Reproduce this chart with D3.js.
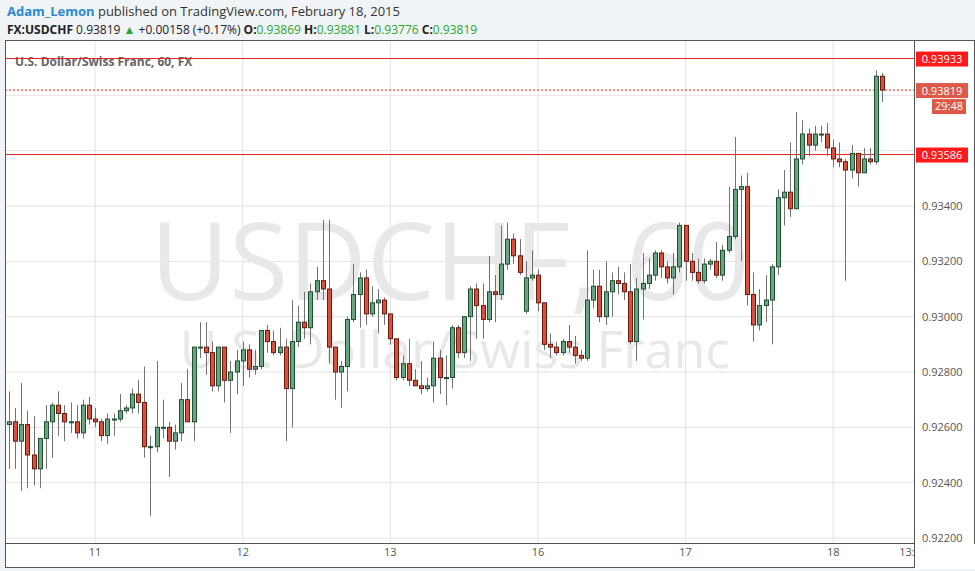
<!DOCTYPE html>
<html><head><meta charset="utf-8">
<script src="https://cdn.jsdelivr.net/npm/d3@7"></script>
<style>body{margin:0;background:#fff;font-family:"Open Sans",Arial,sans-serif}</style>
</head><body><svg id="c" width="975" height="571"></svg>
<script>
// hourly candles, Feb 10 10:00 .. Feb 18 08:00
const opens  = [.9261,.9262,.9255,.9261,.9250,.9245,.9256,.9262,.9268,.9265,.9262,.9262,.9258,.9268,.9263,.9262,.9257,.9263,.9263,.9266,.9267,.9272,.9269,.9253,.9253,.9260,.9260,.9255,.9258,.9270,.9262,.9289,.9289,.9287,.9275,.9289,.9277,.9280,.9284,.9288,.9281,.9282,.9295,.9291,.9287,.9289,.9274,.9291,.9298,.9296,.9309,.9313,.9310,.9289,.9280,.9282,.9299,.9308,.9314,.9301,.9305,.9306,.9301,.9292,.9278,.9283,.9277,.9275,.9274,.9275,.9285,.9278,.9278,.9296,.9287,.9300,.9310,.9304,.9299,.9309,.9308,.9319,.9328,.9322,.9302,.9314,.9315,.9305,.9290,.9289,.9287,.9291,.9289,.9286,.9285,.9306,.9311,.9300,.9309,.9313,.9312,.9309,.9291,.9310,.9312,.9315,.9323,.9318,.9314,.9318,.9333,.9320,.9316,.9313,.9319,.9320,.9315,.9324,.9329,.9346,.9347,.9308,.9297,.9304,.9306,.9318,.9343,.9345,.9339,.9357,.9366,.9362,.9366,.9366,.9361,.9357,.9356,.9353,.9359,.9352,.9357,.9356,.93869];
const highs  = [.9273,.9267,.9276,.9266,.9264,.9256,.9268,.9269,.9273,.9268,.9269,.9268,.9270,.9271,.9267,.9263,.9265,.9265,.9272,.9268,.9274,.9277,.9282,.9257,.9284,.9270,.9262,.9261,.9276,.9281,.9289,.9298,.9298,.9291,.9289,.9289,.9284,.9288,.9291,.9290,.9288,.9295,.9297,.9295,.9296,.9292,.9306,.9304,.9309,.9312,.9318,.9335,.9335,.9289,.9284,.9300,.9319,.9316,.9317,.9311,.9310,.9307,.9301,.9292,.9286,.9292,.9281,.9284,.9278,.9291,.9288,.9286,.9297,.9297,.9300,.9311,.9312,.9312,.9322,.9315,.9333,.9334,.9330,.9328,.9320,.9324,.9317,.9305,.9294,.9291,.9292,.9297,.9293,.9288,.9324,.9317,.9317,.9320,.9316,.9318,.9316,.9319,.9314,.9323,.9321,.9324,.9324,.9320,.9323,.9334,.9333,.9323,.9321,.9321,.9321,.9327,.9326,.9347,.9365,.9351,.9352,.9316,.9310,.9315,.9319,.9346,.9353,.9363,.9374,.9371,.9368,.9369,.9369,.9370,.9364,.9363,.9357,.9362,.9359,.9361,.9361,.9389,.93881];
const lows   = [.9245,.9245,.9237,.9238,.9239,.9238,.9245,.9249,.9257,.9255,.9258,.9256,.9256,.9261,.9260,.9255,.9254,.9257,.9262,.9265,.9265,.9265,.9249,.9228,.9251,.9256,.9242,.9252,.9255,.9262,.9255,.9285,.9279,.9273,.9273,.9269,.9258,.9272,.9275,.9278,.9279,.9281,.9287,.9286,.9286,.9255,.9260,.9289,.9292,.9290,.9306,.9306,.9283,.9270,.9267,.9273,.9298,.9296,.9297,.9300,.9294,.9297,.9290,.9277,.9277,.9275,.9275,.9272,.9273,.9269,.9272,.9268,.9274,.9285,.9285,.9284,.9292,.9292,.9298,.9298,.9306,.9317,.9319,.9315,.9301,.9313,.9302,.9288,.9285,.9286,.9286,.9287,.9283,.9284,.9284,.9303,.9298,.9297,.9300,.9308,.9306,.9290,.9284,.9299,.9310,.9313,.9314,.9312,.9308,.9316,.9313,.9313,.9312,.9312,.9317,.9314,.9313,.9323,.9328,.9320,.9304,.9291,.9295,.9298,.9290,.9315,.9333,.9336,.9339,.9355,.9358,.9360,.9363,.9358,.9354,.9354,.9313,.9350,.9347,.9352,.9355,.9355,.93776];
const closes = [.9262,.9255,.9261,.9250,.9245,.9256,.9262,.9268,.9265,.9262,.9262,.9258,.9268,.9263,.9262,.9257,.9263,.9263,.9266,.9267,.9272,.9269,.9253,.9253,.9260,.9260,.9255,.9258,.9270,.9262,.9289,.9289,.9287,.9275,.9289,.9277,.9280,.9284,.9288,.9281,.9282,.9295,.9291,.9287,.9289,.9274,.9291,.9298,.9296,.9309,.9313,.9310,.9289,.9280,.9282,.9299,.9308,.9314,.9301,.9305,.9306,.9301,.9292,.9278,.9283,.9277,.9275,.9274,.9275,.9285,.9278,.9278,.9296,.9287,.9300,.9310,.9304,.9299,.9309,.9308,.9319,.9328,.9322,.9316,.9314,.9315,.9305,.9290,.9289,.9287,.9291,.9289,.9286,.9285,.9306,.9311,.9300,.9309,.9313,.9312,.9309,.9291,.9310,.9312,.9315,.9323,.9318,.9314,.9318,.9333,.9320,.9316,.9313,.9319,.9320,.9315,.9324,.9329,.9346,.9347,.9308,.9297,.9304,.9306,.9318,.9343,.9345,.9339,.9357,.9366,.9362,.9366,.9366,.9361,.9357,.9356,.9353,.9359,.9352,.9357,.9356,.93869,.93819];
// candle index where each day label sits (00:00)
const dayIdx = [14, 38, 62, 86, 110, 134, 146];
const dayLabels = ["11", "12", "13", "16", "17", "18", "13:"];
const priceTicks = [0.922, 0.924, 0.926, 0.928, 0.930, 0.932, 0.934];
const gridOnly = [0.936, 0.938];

const svg = d3.select("#c");
const W = 975, H = 571;
const plot = {left: 5, right: 914, top: 40, bottom: 543};

// header
svg.append("rect").attr("width", W).attr("height", H).attr("fill", "#f1f4f7");
svg.append("rect").attr("x", plot.left).attr("y", plot.top)
    .attr("width", W - plot.left).attr("height", H - plot.top - 3).attr("fill", "#fff");

const x = d3.scaleLinear().domain([0, 146]).range([9, 907]);
const y = d3.scaleLinear().domain([0.922, 0.940]).range([538, 40]);

const gridC = "#e3e3e3";
svg.append("g").selectAll("line").data(priceTicks.concat(gridOnly)).join("line")
    .attr("x1", plot.left).attr("x2", plot.right)
    .attr("y1", d => y(d)).attr("y2", d => y(d))
    .attr("stroke", gridC);
svg.append("g").selectAll("line").data(dayIdx.slice(0, 6)).join("line")
    .attr("x1", d => x(d)).attr("x2", d => x(d))
    .attr("y1", plot.top).attr("y2", plot.bottom)
    .attr("stroke", gridC);

// watermark
svg.append("text").attr("x", 450).attr("y", 300).attr("text-anchor", "middle")
    .attr("font-size", 108).attr("fill", "#e8e8e8").attr("font-family", "Open Sans")
    .text("USDCHF, 60");
svg.append("text").attr("x", 455).attr("y", 368).attr("text-anchor", "middle")
    .attr("font-size", 52).attr("fill", "#e8e8e8").attr("font-family", "Open Sans")
    .text("U.S. Dollar/Swiss Franc");

svg.append("text").attr("x", 15).attr("y", 66).attr("font-size", 12)
    .attr("font-weight", "bold").attr("fill", "#666").text("U.S. Dollar/Swiss Franc, 60, FX");

// level lines
svg.append("line").attr("x1", plot.left).attr("x2", plot.right)
    .attr("y1", y(0.93933)).attr("y2", y(0.93933)).attr("stroke", "#e0201c");
svg.append("line").attr("x1", plot.left).attr("x2", plot.right)
    .attr("y1", y(0.93586)).attr("y2", y(0.93586)).attr("stroke", "#e0201c");
svg.append("line").attr("x1", plot.left).attr("x2", plot.right)
    .attr("y1", y(0.93819)).attr("y2", y(0.93819)).attr("stroke", "#e0201c")
    .attr("stroke-dasharray", "2,2");

// candles
const data = opens.map((o, i) => ({i, o, h: highs[i], l: lows[i], c: closes[i]}));
const g = svg.append("g");
g.selectAll("line").data(data).join("line")
    .attr("x1", d => Math.round(x(d.i)) + 0.5).attr("x2", d => Math.round(x(d.i)) + 0.5)
    .attr("y1", d => y(d.h)).attr("y2", d => y(d.l))
    .attr("stroke", "#737373");
g.selectAll("rect").data(data).join("rect")
    .attr("x", d => Math.round(x(d.i)) - 1.5)
    .attr("y", d => y(Math.max(d.o, d.c)))
    .attr("width", 4)
    .attr("height", d => Math.max(1, Math.abs(y(d.o) - y(d.c))))
    .attr("fill", d => d.c >= d.o ? "#6aa583" : "#d9503c")
    .attr("stroke", d => d.c >= d.o ? "#1f4f31" : "#6b1a10")
    .attr("stroke-width", 1);

// frame
svg.append("rect").attr("x", plot.left + 0.5).attr("y", plot.top + 0.5)
    .attr("width", W - plot.left - 1).attr("height", H - plot.top - 4)
    .attr("fill", "none").attr("stroke", "#555");
svg.append("line").attr("x1", plot.right + 0.5).attr("x2", plot.right + 0.5)
    .attr("y1", plot.top).attr("y2", H - 3).attr("stroke", "#555");
svg.append("line").attr("x1", plot.left).attr("x2", plot.right)
    .attr("y1", plot.bottom + 0.5).attr("y2", plot.bottom + 0.5).attr("stroke", "#555");

// axes text
svg.append("g").selectAll("text").data(priceTicks).join("text")
    .attr("x", 922).attr("y", d => y(d) + 4).attr("font-size", 11).attr("fill", "#555")
    .text(d => d.toFixed(5));
svg.append("g").selectAll("text").data(dayIdx).join("text")
    .attr("x", d => x(d)).attr("y", 556).attr("text-anchor", "middle")
    .attr("font-size", 11).attr("fill", "#555").text((d, i) => dayLabels[i]);
svg.append("rect").attr("x", plot.right + 1).attr("y", plot.bottom + 1)
    .attr("width", 60).attr("height", 25).attr("fill", "#fff");

// price labels
const tag = (v, txt, fill, dy) => {
    svg.append("rect").attr("x", 916).attr("y", y(v) - 7 + dy).attr("width", 52).attr("height", 15).attr("fill", fill);
    svg.append("text").attr("x", 942).attr("y", y(v) + 4.5 + dy).attr("text-anchor", "middle")
        .attr("font-size", 11).attr("fill", "#fff").text(txt);
};
tag(0.93933, "0.93933", "#ff1a1a", 0);
tag(0.93586, "0.93586", "#ff1a1a", 0);
tag(0.93819, "0.93819", "#dc5a47", 0);
svg.append("rect").attr("x", 932).attr("y", y(0.93819) + 9).attr("width", 34).attr("height", 15).attr("fill", "#dc5a47");
svg.append("text").attr("x", 949).attr("y", y(0.93819) + 20).attr("text-anchor", "middle")
    .attr("font-size", 11).attr("fill", "#fff").text("29:48");

// header text
svg.append("text").attr("x", 7).attr("y", 16).attr("font-size", 13).html(
    '<tspan fill="#2a8ad0" font-weight="bold">Adam_Lemon</tspan><tspan fill="#333"> published on TradingView.com, February 18, 2015</tspan>');
svg.append("text").attr("x", 7).attr("y", 34).attr("font-size", 12).attr("fill", "#222").html(
    '<tspan font-weight="bold">FX:USDCHF</tspan> 0.93819 <tspan fill="#2ea52e">▲</tspan> +0.00158 (+0.17%) ' +
    '<tspan font-weight="bold">O:</tspan><tspan fill="#2ea52e">0.93869</tspan> ' +
    '<tspan font-weight="bold">H:</tspan><tspan fill="#2ea52e">0.93881</tspan> ' +
    '<tspan font-weight="bold">L:</tspan><tspan fill="#2ea52e">0.93776</tspan> ' +
    '<tspan font-weight="bold">C:</tspan><tspan fill="#2ea52e">0.93819</tspan>');
</script></body></html>
